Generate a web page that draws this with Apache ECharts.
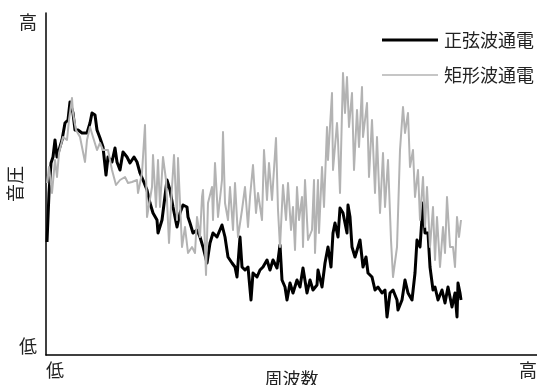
<!DOCTYPE html>
<html>
<head>
<meta charset="utf-8">
<script src="https://cdn.jsdelivr.net/npm/echarts@6/dist/echarts.min.js"></script>
<style>
html,body{margin:0;padding:0;background:#fff;}
#chart{width:537px;height:385px;}
</style>
</head>
<body>
<div id="chart"></div>
<script>
// Relative frequency (0 = low end, 491 = high end) and relative sound pressure (0 = low, 342 = high)
const xTickLabels = ['低', '高'];
const yTickLabels = ['低', '高'];
const seriesNames = ['正弦波通電', '矩形波通電'];

const sineFreq = [1,3,5,7,9,11,13,16,19,22,24,26,27,29,32,36,41,44,46,49,51,54,57,60,62,66,69,71,74,77,81,84,88,91,94,97,101,104,107,111,112,116,121,124,127,131,134,137,141,142,144,147,151,154,157,161,164,167,171,176,179,182,186,189,191,194,196,199,202,205,207,211,214,217,221,224,227,231,234,236,239,241,244,247,251,254,257,261,264,267,271,272,276,279,282,285,287,289,292,294,297,301,302,304,306,309,312,314,317,320,322,326,329,332,336,339,341,344,347,351,352,356,359,362,366,369,371,374,377,379,382,384,387,389,392,396,399,402,406,409,411,412,414,415];
const sineLevel = [113,162,192,198,215,198,205,215,232,235,253,255,242,225,225,222,222,232,242,240,225,217,208,180,198,193,207,193,185,203,198,192,198,193,182,175,165,152,142,135,122,135,175,165,148,128,142,150,148,138,132,122,125,118,108,92,112,122,118,130,118,98,92,88,78,118,88,85,88,55,82,78,85,88,95,85,95,87,110,75,68,55,72,62,75,68,87,62,75,65,70,85,68,92,108,88,122,132,118,147,142,122,150,138,108,98,108,115,88,98,82,78,65,68,62,65,38,62,65,55,45,55,75,62,55,82,115,108,152,122,122,88,65,68,55,65,52,68,48,62,38,72,62,55];

const squareFreq = [1,3,6,9,11,13,17,21,23,26,27,30,34,39,41,44,47,51,54,57,62,66,70,74,79,82,86,91,92,96,99,101,106,107,110,112,114,117,120,123,126,128,131,132,136,139,142,146,149,151,154,156,157,160,162,166,167,169,172,176,177,179,182,184,187,189,192,196,199,202,204,207,210,212,216,218,221,223,226,230,232,234,237,240,242,245,247,249,251,253,256,257,259,262,266,268,269,272,273,276,278,281,282,286,287,291,292,294,297,299,301,303,306,308,311,313,316,317,321,323,326,329,331,334,337,339,342,345,347,351,354,357,359,362,364,367,369,372,374,377,379,381,384,387,389,391,394,397,399,401,404,407,409,411,413,415];
const squareLevel = [172,188,162,195,178,202,218,215,235,257,242,225,218,193,215,228,218,205,212,205,205,185,170,175,178,172,173,175,162,182,230,138,168,200,148,195,148,198,175,112,168,200,135,197,108,128,102,108,102,138,118,158,165,80,152,168,135,192,138,175,223,152,135,168,125,172,118,145,168,128,158,190,142,162,135,205,155,192,155,217,145,108,170,135,172,125,148,105,168,135,158,108,175,115,125,175,102,175,122,188,148,228,195,262,185,232,215,162,282,242,278,228,262,185,245,208,268,218,252,178,235,162,218,142,202,148,195,115,78,108,205,248,222,242,188,205,158,185,135,178,128,168,108,148,95,138,88,128,102,158,108,108,88,138,118,135];

function pairs(xs, ys){ return xs.map((x, i) => [x, ys[i]]); }

const chart = echarts.init(document.getElementById('chart'), null, {renderer: 'canvas'});
const fontFamily = '"Noto Sans CJK JP", "Noto Sans", sans-serif';
chart.setOption({
  animation: false,
  backgroundColor: '#fff',
  grid: {left: 46, right: 0, top: 13, bottom: 30, containLabel: false, outerBoundsMode: 'none'},
  legend: {
    orient: 'vertical',
    left: 377,
    top: 26,
    itemWidth: 56,
    itemHeight: 16,
    itemGap: 17,
    textStyle: {fontFamily: fontFamily, fontSize: 18, color: '#222', padding: [0,0,0,1]},
    data: [
      {name: seriesNames[0], icon: 'path://M0,0 L56,0 L56,3 L0,3 Z', itemStyle: {color: '#000'}},
      {name: seriesNames[1], icon: 'path://M0,0 L56,0 L56,1.4 L0,1.4 Z', itemStyle: {color: '#b3b3b3'}}
    ]
  },
  xAxis: {
    type: 'value', min: 0, max: 491, interval: 491,
    name: '周波数', nameLocation: 'middle', nameGap: 15, nameMoveOverlap: false,
    nameTextStyle: {fontFamily: fontFamily, fontSize: 18, color: '#222', verticalAlign: 'top'},
    axisLine: {show: true, lineStyle: {color: '#000', width: 1.5}},
    axisTick: {show: false},
    splitLine: {show: false},
    axisLabel: {
      fontFamily: fontFamily, fontSize: 18, color: '#222', margin: 6,
      alignMinLabel: 'left', alignMaxLabel: 'right',
      formatter: v => (v === 0 ? xTickLabels[0] : xTickLabels[1])
    }
  },
  yAxis: {
    type: 'value', min: 0, max: 342, interval: 342,
    name: '音圧', nameLocation: 'middle', nameGap: 22, nameMoveOverlap: false,
    nameTextStyle: {fontFamily: fontFamily, fontSize: 18, color: '#222'},
    axisLine: {show: true, lineStyle: {color: '#000', width: 1.5}},
    axisTick: {show: false},
    splitLine: {show: false},
    axisLabel: {
      fontFamily: fontFamily, fontSize: 18, color: '#222', margin: 9,
      verticalAlignMinLabel: 'bottom', verticalAlignMaxLabel: 'top',
      formatter: v => (v === 0 ? yTickLabels[0] : yTickLabels[1])
    }
  },
  series: [
    {
      name: seriesNames[0], type: 'line', data: pairs(sineFreq, sineLevel),
      symbol: 'none', lineStyle: {color: '#000', width: 3, join: 'round'}, itemStyle: {color: '#000'}, z: 2
    },
    {
      name: seriesNames[1], type: 'line', data: pairs(squareFreq, squareLevel),
      symbol: 'none', lineStyle: {color: '#b3b3b3', width: 2, join: 'round'}, itemStyle: {color: '#b3b3b3'}, z: 3
    }
  ]
});
</script>
</body>
</html>
